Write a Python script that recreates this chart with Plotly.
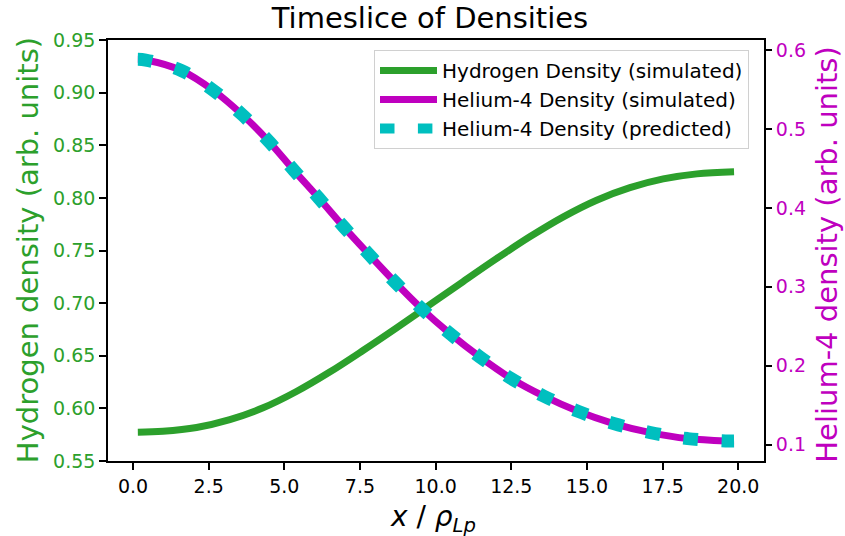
import plotly.graph_objects as go

# Hydrogen density (left axis)
h_x = [0.16, 0.99, 2.10, 3.20, 4.30, 5.40, 6.50, 7.60, 8.71, 9.81, 10.91,
       12.01, 13.11, 14.22, 15.32, 16.42, 17.52, 18.63, 19.86]
h_y = [0.5773, 0.5782, 0.5818, 0.5893, 0.6005, 0.6160, 0.6345, 0.6550, 0.6765,
       0.6985, 0.7205, 0.7422, 0.7630, 0.7820, 0.7978, 0.8097, 0.8180, 0.8228, 0.8248]

# Helium-4 density (right axis)
he_x = [0.16, 0.42, 1.61, 2.67, 3.62, 4.50, 5.31, 6.14, 6.97, 7.79, 8.65, 9.53,
        10.47, 11.46, 12.48, 13.58, 14.70, 15.88, 17.10, 18.33, 19.58, 19.86]
he_y = [0.5882, 0.5873, 0.5738, 0.5484, 0.5176, 0.4837, 0.4478, 0.4123, 0.3756,
        0.3413, 0.3062, 0.2725, 0.2408, 0.2111, 0.1841, 0.1613, 0.1422, 0.1267,
        0.1152, 0.1076, 0.1046, 0.1045]

x_ticks = [0.0, 2.5, 5.0, 7.5, 10.0, 12.5, 15.0, 17.5, 20.0]
left_ticks = [0.55, 0.60, 0.65, 0.70, 0.75, 0.80, 0.85, 0.90, 0.95]
right_ticks = [0.1, 0.2, 0.3, 0.4, 0.5, 0.6]

GREEN = "#2ca02c"
MAG = "#bf00bf"
CYAN = "#00bfbf"
FONT = "DejaVu Sans"

fig = go.Figure()
fig.add_trace(go.Scatter(x=h_x, y=h_y, mode="lines", name="Hydrogen Density (simulated)",
                         line=dict(color=GREEN, width=7, shape="spline"), yaxis="y"))
fig.add_trace(go.Scatter(x=he_x, y=he_y, mode="lines", name="Helium-4 Density (simulated)",
                         line=dict(color=MAG, width=7, shape="spline"), yaxis="y2"))
fig.add_trace(go.Scatter(x=he_x, y=he_y, mode="lines", name="Helium-4 Density (predicted)",
                         line=dict(color=CYAN, width=13, shape="spline", dash="14.5px,23.4px"),
                         yaxis="y2"))

axis_common = dict(showgrid=False, zeroline=False, ticks="outside", ticklen=7,
                   tickwidth=1.6, tickcolor="black", automargin=False)

fig.update_layout(
    width=845, height=536,
    margin=dict(l=108, r=81, t=40, b=75, autoexpand=False),
    paper_bgcolor="white", plot_bgcolor="white",
    font=dict(family=FONT, size=19, color="black"),
    title=dict(text="Timeslice of Densities", x=430 / 845, xanchor="center",
               yref="container", y=1 - 18 / 536, yanchor="middle",
               font=dict(size=29, color="black")),
    xaxis=dict(range=[-0.826, 20.85], tickvals=x_ticks, tickformat=".1f",
               showline=True, linecolor="black", linewidth=1.6, mirror=True,
               tickfont=dict(size=19, color="black"), **axis_common),
    yaxis=dict(range=[0.55, 0.95], tickvals=left_ticks, tickformat=".2f",
               showline=True, linecolor="black", linewidth=1.6, mirror=True,
               tickfont=dict(size=19, color=GREEN), **axis_common),
    yaxis2=dict(range=[0.0792, 0.6127], tickvals=right_ticks, tickformat=".1f",
                overlaying="y", side="right", showline=False,
                tickfont=dict(size=19, color=MAG), **axis_common),
    legend=dict(x=(374 - 108) / 656, y=0.976, xanchor="left", yanchor="top",
                bgcolor="rgba(255,255,255,0.8)", bordercolor="#d0d0d0", borderwidth=1,
                font=dict(size=20, color="black"), itemwidth=57),
    showlegend=True,
    annotations=[
        dict(text="Hydrogen density (arb. units)", xref="paper", yref="paper",
             x=(28 - 108.3) / 655.7, y=0.5, xanchor="center", yanchor="middle",
             textangle=-90, showarrow=False, font=dict(size=29, color=GREEN)),
        dict(text="Helium-4 density (arb. units)", xref="paper", yref="paper",
             x=(827 - 108.3) / 655.7, y=0.49, xanchor="center", yanchor="middle",
             textangle=-90, showarrow=False, font=dict(size=29, color=MAG)),
        dict(text="<i>x</i> / <i>ρ</i><sub><i>Lp</i></sub>", xref="paper", yref="paper",
             x=(433 - 108.3) / 655.7, y=1 - (518 - 40) / 420.7, xanchor="center",
             yanchor="middle", showarrow=False, font=dict(size=28, color="black")),
    ],
)

fig.write_html("out.html", config={"displayModeBar": False},
               post_script="document.body.style.margin='0';document.body.style.overflow='hidden';")
